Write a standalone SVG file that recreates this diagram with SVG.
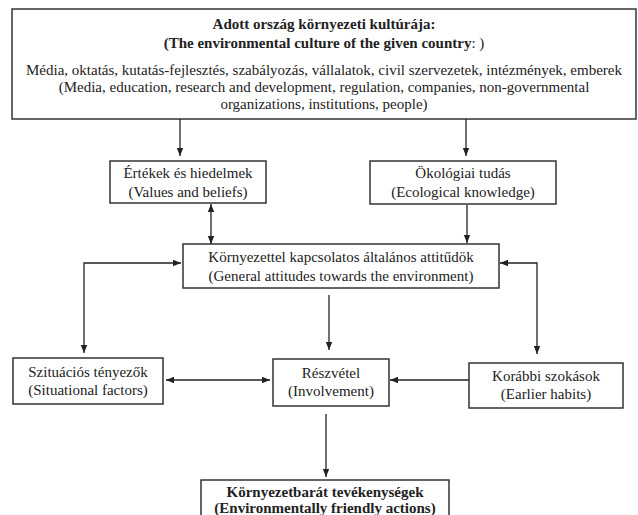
<svg xmlns="http://www.w3.org/2000/svg" width="638" height="515" viewBox="0 0 638 515">
<defs>
<marker id="ah" viewBox="0 0 10 10" refX="10" refY="5" markerWidth="8" markerHeight="8" markerUnits="userSpaceOnUse" orient="auto-start-reverse">
<path d="M0,1 L10,5 L0,9 z" fill="#222"/>
</marker>
<style>
.box{fill:#fff;stroke:#333;stroke-width:1.5}
.t{font-family:"Liberation Serif","Times New Roman",serif;font-size:15px;fill:#222;text-anchor:middle}
.b{font-weight:bold}
.c{fill:none;stroke:#222;stroke-width:1.3}
</style>
</defs>
<rect width="638" height="515" fill="#fff"/>
<g id="n-culture">
<rect class="box" x="12" y="9" width="624" height="110"/>
<text class="t b" x="324" y="29">Adott ország környezeti kultúrája:</text>
<text class="t" x="324" y="48"><tspan class="b">(The environmental culture of the given country</tspan>: )</text>
<text class="t" x="324" y="75">Média, oktatás, kutatás-fejlesztés, szabályozás, vállalatok, civil szervezetek, intézmények, emberek</text>
<text class="t" x="324" y="92">(Media, education, research and development, regulation, companies, non-governmental</text>
<text class="t" x="324" y="109">organizations, institutions, people)</text>
</g>
<g id="n-values">
<rect class="box" x="110" y="161" width="156" height="42"/>
<text class="t" x="188" y="178">Értékek és hiedelmek</text>
<text class="t" x="188" y="197">(Values and beliefs)</text>
</g>
<g id="n-eco">
<rect class="box" x="370" y="161" width="186" height="43"/>
<text class="t" x="463" y="178">Ökológiai tudás</text>
<text class="t" x="463" y="197">(Ecological knowledge)</text>
</g>
<g id="n-attitudes">
<rect class="box" x="183" y="244" width="316" height="44"/>
<text class="t" x="341" y="262">Környezettel kapcsolatos általános attitűdök</text>
<text class="t" x="341" y="281">(General attitudes towards the environment)</text>
</g>
<g id="n-situational">
<rect class="box" x="13" y="358" width="150" height="46"/>
<text class="t" x="88" y="377">Szituációs tényezők</text>
<text class="t" x="88" y="395">(Situational factors)</text>
</g>
<g id="n-involvement">
<rect class="box" x="273" y="359" width="116" height="47"/>
<text class="t" x="331" y="378">Részvétel</text>
<text class="t" x="331" y="396">(Involvement)</text>
</g>
<g id="n-habits">
<rect class="box" x="469" y="363" width="154" height="45"/>
<text class="t" x="546" y="381">Korábbi szokások</text>
<text class="t" x="546" y="399">(Earlier habits)</text>
</g>
<g id="n-actions">
<rect class="box" x="201" y="480" width="248" height="50"/>
<text class="t b" x="325" y="497">Környezetbarát tevékenységek</text>
<text class="t b" x="325" y="513">(Environmentally friendly actions)</text>
</g>
<g id="connectors">
<line class="c" x1="180" y1="119" x2="180" y2="156" marker-end="url(#ah)"/>
<line class="c" x1="466" y1="119" x2="466" y2="156" marker-end="url(#ah)"/>
<line class="c" x1="211" y1="204" x2="211" y2="244" marker-start="url(#ah)" marker-end="url(#ah)"/>
<line class="c" x1="467" y1="205" x2="467" y2="243" marker-end="url(#ah)"/>
<polyline class="c" points="84,353 84,263 181,263" marker-start="url(#ah)" marker-end="url(#ah)"/>
<polyline class="c" points="537,354 537,263 500,263" marker-start="url(#ah)" marker-end="url(#ah)"/>
<line class="c" x1="329" y1="295" x2="329" y2="350" marker-end="url(#ah)"/>
<line class="c" x1="166" y1="380" x2="270" y2="380" marker-start="url(#ah)" marker-end="url(#ah)"/>
<line class="c" x1="469" y1="380" x2="390" y2="380" marker-end="url(#ah)"/>
<line class="c" x1="326" y1="414" x2="326" y2="477" marker-end="url(#ah)"/>
</g>
</svg>
